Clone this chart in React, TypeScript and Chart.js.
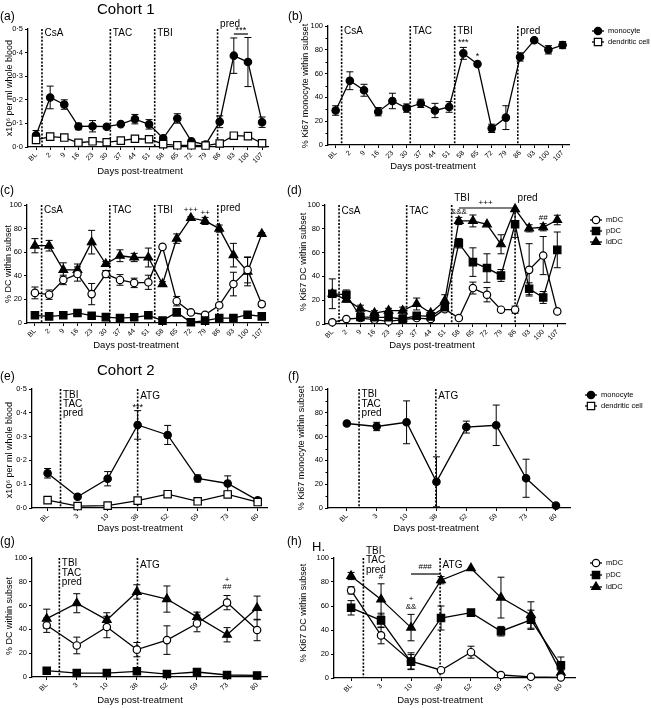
import React, { useEffect, useRef } from 'react';
import { Chart, registerables } from 'chart.js';
Chart.register(...registerables);

const FONT = 'Arial, "Liberation Sans", Helvetica, sans-serif';

// ---------- categories ----------
const daysC1 = ['BL', '2', '9', '16', '23', '30', '37', '44', '51', '58', '65', '72', '79', '86', '93', '100', '107'];
const daysC2 = ['BL', '3', '10', '38', '52', '59', '73', '80'];

// ---------- (a) cohort 1 counts ----------
const aMono = [0.05, 0.21, 0.18, 0.087, 0.088, 0.086, 0.097, 0.118, 0.096, 0.037, 0.121, 0.024, 0.01, 0.107, 0.387, 0.36, 0.105];
const aMonoErr = [0.02, 0.048, 0.02, 0.014, 0.024, 0.006, 0.006, 0.02, 0.02, 0.006, 0.02, 0.005, 0.005, 0.025, 0.075, 0.104, 0.022];
const aDc = [0.03, 0.044, 0.04, 0.018, 0.024, 0.02, 0.027, 0.035, 0.033, 0.012, 0.007, 0.007, 0.006, 0.015, 0.048, 0.046, 0.016];
const aDcErr = [0.008, 0.005, 0.005, 0.004, 0.004, 0.003, 0.004, 0.004, 0.004, 0.003, 0.002, 0.002, 0.002, 0.004, 0.006, 0.005, 0.004];

// ---------- (b) cohort 1 Ki67 monocyte ----------
const bMono = [29, 54, 46, 28, 37, 31, 35, 29, 32, 77, 68, 14, 23, 74, 88, 80, 84];
const bMonoErr = [4, 7.5, 5, 3.5, 6.5, 3.5, 3.5, 6, 4.5, 5, 0, 3.5, 10, 3.5, 0, 3.5, 3];

// ---------- (c) cohort 1 DC subsets ----------
const cMdc = [25.5, 24, 36.5, 41.5, 24.5, 41.5, 36.5, 34, 34.5, 64.5, 18.5, 9, 7, 15, 33, 45, 16];
const cMdcErr = [5, 4, 4, 6, 9, 3, 4.5, 4, 6, 2, 4, 1, 1, 1.5, 10, 11, 2];
const cPdc = [6.5, 5.6, 6.5, 8.5, 6.2, 5, 4.2, 4.8, 6.5, 2, 9, 0.6, 2, 4.2, 4.2, 7, 5.6];
const cPdcErr = [1, 1, 1, 1, 1, 1, 1, 1, 1, 0.5, 1, 0.5, 0.5, 1, 1, 1, 1];
const cLddc = [65.5, 65.5, 45, 45, 68.5, 50, 57, 55.5, 55.5, 33, 71.5, 89, 86.5, 80, 57.5, 43.5, 75.5];
const cLddcErr = [6, 4.5, 6, 5, 10, 2, 5, 3.5, 8, 2, 4, 1, 3, 3, 10, 12, 1];

// ---------- (d) cohort 1 Ki67 DC ----------
const dMdc = [1.4, 4.2, 5, 3.6, 2.2, 3.6, 5, 4.2, 12.5, 5, 30.2, 24.6, 12, 12, 45.5, 57.5, 10.6];
const dMdcErr = [0.5, 1, 1, 1, 1, 1, 1, 1, 2, 1, 5, 6, 1, 3, 22, 16, 1];
const dPdc = [25.4, 24.6, 5.9, 5.6, 5.6, 4.2, 7, 6.4, 14, 67.9, 52, 47, 40.8, 83.8, 29.6, 22.3, 62.3];
const dPdcErr = [12.5, 4, 1.5, 2, 3, 1, 1.5, 3, 3, 4, 12, 12, 5, 11, 5, 5, 15];
const dLddc = [25.5, 20.5, 12.8, 9.2, 11.2, 11.2, 16.8, 9.2, 19.6, 86.6, 86.6, 83.8, 67, 96.6, 80.4, 81.3, 87.4];
const dLddcErr = [2, 2, 3, 2, 2, 3, 5, 2, 5, 3, 5, 0, 8, 0, 3, 3, 4];

// ---------- (e) cohort 2 counts ----------
const eMono = [0.146, 0.047, 0.123, 0.349, 0.307, 0.124, 0.103, 0.032];
const eMonoErr = [0.02, 0.005, 0.03, 0.06, 0.04, 0.015, 0.032, 0.005];
const eDc = [0.033, 0.008, 0.01, 0.031, 0.058, 0.028, 0.057, 0.025];
const eDcErr = [0.005, 0.004, 0.004, 0.005, 0.005, 0.004, 0.01, 0.004];

// ---------- (f) cohort 2 Ki67 monocyte ----------
const fMono = [71, 68.5, 72, 22, 68, 69.5, 25, 2];
const fMonoErr = [0, 3.5, 18, 21, 5, 17, 16, 0];

// ---------- (g) cohort 2 DC subsets ----------
const gMdc = [43.5, 26.5, 42, 23, 31, 45, 62.5, 39.5];
const gMdcErr = [6, 7, 9, 6, 12, 7, 6, 9];
const gPdc = [5.3, 3.3, 3.3, 4.8, 2.5, 4.2, 1.7, 1.3];
const gPdcErr = [1, 1, 1, 1, 1, 1, 0.5, 0.5];
const gLddc = [49, 62, 48, 71.5, 65.5, 50.5, 35.5, 58];
const gLddcErr = [8, 8, 6, 6, 11, 4, 6, 10];

// ---------- (h) cohort 2 Ki67 DC ----------
const hMdc = [73, 35.5, 14, 6.5, 21.5, 2.5, 1, 0.5];
const hMdcErr = [3, 7, 7, 1, 5, 1, 0.5, 0.5];
const hPdc = [58.5, 48, 13.5, 50, 54.5, 39, 48.5, 10.5];
const hPdcErr = [6, 6, 6, 10, 1, 4, 8, 7];
const hLddc = [85, 65.5, 42, 81.5, 91.5, 67, 52.5, 4.5];
const hLddcErr = [3, 13, 11, 3, 0, 17, 11, 2];

type Marker = 'circle' | 'rect' | 'triangle';
interface Series { label: string; data: number[]; err: number[]; marker: Marker; filled: boolean; }
interface Note { x: number; dy: number; text: string; center?: boolean; size?: number; }
interface HBar { x1: number; x2: number; dy: number; }
interface Panel {
  box: [number, number, number, number];
  area: [number, number, number, number];
  cats: string[]; xmin: number; xmax: number;
  ymax: number; ystep: number; decimal?: boolean; minor?: number;
  yTitle: string; yTitlePos: [number, number];
  xTitlePos: [number, number];
  series: Series[];
  vlines: number[]; notes: Note[]; hbars: HBar[];
  legend?: [number, number, number];
  legendItems?: Series[];
}

const mono = (d: number[], e: number[]): Series => ({ label: 'monocyte', data: d, err: e, marker: 'circle', filled: true });
const dc = (d: number[], e: number[]): Series => ({ label: 'dendritic cell', data: d, err: e, marker: 'rect', filled: false });
const mdc = (d: number[], e: number[]): Series => ({ label: 'mDC', data: d, err: e, marker: 'circle', filled: false });
const pdc = (d: number[], e: number[]): Series => ({ label: 'pDC', data: d, err: e, marker: 'rect', filled: true });
const lddc = (d: number[], e: number[]): Series => ({ label: 'ldDC', data: d, err: e, marker: 'triangle', filled: true });

const cellLegend = [mono([], []), dc([], [])];
const dcLegend = [mdc([], []), pdc([], []), lddc([], [])];

const t1 = (x: number, dy: number, text: string, size = 10): Note => ({ x, dy, text, size });
const tc = (x: number, dy: number, text: string, size = 9): Note => ({ x, dy, text, center: true, size });

const panels: Panel[] = [
  {
    box: [0, 0, 290, 178], area: [28, 29, 268, 147], cats: daysC1, xmin: -0.57, xmax: 16.42,
    ymax: 0.5, ystep: 0.1, decimal: true, yTitle: 'x10⁶ per ml whole blood', yTitlePos: [10, 88], xTitlePos: [140, 171],
    series: [dc(aDc, aDcErr), mono(aMono, aMonoErr)],
    vlines: [0.42, 5.26, 8.4, 12.85],
    notes: [t1(0.42, 4, 'CsA'), t1(5.26, 4, 'TAC'), t1(8.4, 4, 'TBI'), t1(12.85, -5, 'pred'), tc(14.5, 2, '***')],
    hbars: [{ x1: 14, x2: 15, dy: 5 }],
  },
  {
    box: [290, 0, 361, 178], area: [328, 26, 569, 145], cats: daysC1, xmin: -0.54, xmax: 16.45,
    ymax: 100, ystep: 20, minor: 10, yTitle: '% Ki67 monocyte within subset', yTitlePos: [306, 86], xTitlePos: [433, 166],
    series: [mono(bMono, bMonoErr)],
    vlines: [0.42, 5.26, 8.39, 12.84],
    notes: [t1(0.42, 5, 'CsA'), t1(5.26, 5, 'TAC'), t1(8.39, 5, 'TBI'), t1(12.84, 5, 'pred'), tc(9, 17, '***'), tc(10, 31, '*')],
    hbars: [], legend: [598, 31, 11], legendItems: cellLegend,
  },
  {
    box: [0, 178, 290, 177], area: [27, 205, 268, 323], cats: daysC1, xmin: -0.56, xmax: 16.44,
    ymax: 100, ystep: 20, yTitle: '% DC within subset', yTitlePos: [9, 264], xTitlePos: [136, 345],
    series: [pdc(cPdc, cPdcErr), mdc(cMdc, cMdcErr), lddc(cLddc, cLddcErr)],
    vlines: [0.47, 5.28, 8.45, 12.9],
    notes: [t1(0.47, 5, 'CsA'), t1(5.28, 5, 'TAC'), t1(8.45, 5, 'TBI'), t1(12.9, 3, 'pred'), tc(11, 5, '+++', 8), tc(12, 8, '++', 8)],
    hbars: [],
  },
  {
    box: [290, 178, 361, 177], area: [325, 205, 565, 324], cats: daysC1, xmin: -0.52, xmax: 16.55,
    ymax: 100, ystep: 20, yTitle: '% Ki67 DC within subset', yTitlePos: [304, 262], xTitlePos: [432, 345],
    series: [pdc(dPdc, dPdcErr), mdc(dMdc, dMdcErr), lddc(dLddc, dLddcErr)],
    vlines: [0.48, 5.29, 8.49, 13.0],
    notes: [t1(0.48, 6, 'CsA'), t1(5.29, 6, 'TAC'), t1(8.49, -7, 'TBI'), t1(13.0, -7, 'pred'), tc(10.9, -2, '+++', 8), tc(9, 7, '&&&', 8), tc(15, 13, '##', 8)],
    hbars: [{ x1: 9, x2: 13, dy: 3 }], legend: [596, 220, 11], legendItems: dcLegend,
  },
  {
    box: [0, 355, 290, 177], area: [32, 389, 267, 508], cats: daysC2, xmin: -0.52, xmax: 7.31,
    ymax: 0.5, ystep: 0.1, decimal: true, yTitle: 'x10⁶ per ml whole blood', yTitlePos: [10, 450], xTitlePos: [140, 528],
    series: [dc(eDc, eDcErr), mono(eMono, eMonoErr)],
    vlines: [0.43, 3.0],
    notes: [t1(0.43, 6, 'TBI'), t1(0.43, 15, 'TAC'), t1(0.43, 24, 'pred'), t1(3.0, 7, 'ATG'), tc(3, 19, '***')],
    hbars: [],
  },
  {
    box: [290, 355, 361, 177], area: [328, 389, 570, 508], cats: daysC2, xmin: -0.63, xmax: 7.47,
    ymax: 100, ystep: 20, minor: 10, yTitle: '% Ki67 monocyte within subset', yTitlePos: [302, 448], xTitlePos: [436, 528],
    series: [mono(fMono, fMonoErr)],
    vlines: [0.41, 2.98],
    notes: [t1(0.41, 5, 'TBI'), t1(0.41, 15, 'TAC'), t1(0.41, 24, 'pred'), t1(2.98, 7, 'ATG')],
    hbars: [], legend: [591, 395, 11], legendItems: cellLegend,
  },
  {
    box: [0, 532, 290, 176], area: [32, 558, 267, 677], cats: daysC2, xmin: -0.49, xmax: 7.33,
    ymax: 100, ystep: 20, yTitle: '% DC within subset', yTitlePos: [10, 616], xTitlePos: [140, 700],
    series: [pdc(gPdc, gPdcErr), mdc(gMdc, gMdcErr), lddc(gLddc, gLddcErr)],
    vlines: [0.42, 3.02],
    notes: [t1(0.42, 5, 'TBI'), t1(0.42, 15, 'TAC'), t1(0.42, 24, 'pred'), t1(3.02, 7, 'ATG'), tc(6, 22, '+', 8), tc(6, 29, '##', 8)],
    hbars: [],
  },
  {
    box: [290, 532, 361, 176], area: [334, 558, 575, 678], cats: daysC2, xmin: -0.57, xmax: 7.47,
    ymax: 100, ystep: 20, yTitle: '% Ki67 DC within subset', yTitlePos: [304, 613], xTitlePos: [440, 700],
    series: [pdc(hPdc, hPdcErr), mdc(hMdc, hMdcErr), lddc(hLddc, hLddcErr)],
    vlines: [0.41, 2.97],
    notes: [t1(0.41, -7, 'TBI'), t1(0.41, 2, 'TAC'), t1(0.41, 12, 'pred'), t1(2.97, 7, 'ATG'), tc(1, 19, '#', 8), tc(2, 41, '+', 8), tc(2, 49, '&&', 8), tc(2.47, 9, '###', 8)],
    hbars: [{ x1: 2, x2: 2.97, dy: 16 }], legend: [596, 563, 12], legendItems: dcLegend,
  },
];

function radiusOf(m: Marker) { return m === 'circle' ? 3.7 : m === 'rect' ? 5.2 : 5; }

function drawMarker(ctx: CanvasRenderingContext2D, m: Marker, x: number, y: number, filled: boolean) {
  const r = radiusOf(m);
  ctx.beginPath();
  if (m === 'circle') ctx.arc(x, y, r, 0, Math.PI * 2);
  else if (m === 'rect') { const s = r * Math.SQRT1_2; ctx.rect(x - s, y - s, 2 * s, 2 * s); }
  else {
    ctx.moveTo(x, y - r);
    ctx.lineTo(x + r * Math.sin(Math.PI * 2 / 3), y - r * Math.cos(Math.PI * 2 / 3));
    ctx.lineTo(x + r * Math.sin(Math.PI * 4 / 3), y - r * Math.cos(Math.PI * 4 / 3));
    ctx.closePath();
  }
  ctx.fillStyle = filled ? '#000' : '#fff';
  ctx.fill();
  ctx.lineWidth = 1.2; ctx.strokeStyle = '#000';
  ctx.stroke();
}

function ChartPanel({ p }: { p: Panel }) {
  const ref = useRef<HTMLCanvasElement>(null);
  useEffect(() => {
    const [L, T, W, H] = p.box;
    const [al, at, ar, ab] = p.area;
    const plugin = {
      id: 'panelDeco',
      beforeDatasetsDraw(chart: any) {
        const ctx: CanvasRenderingContext2D = chart.ctx;
        const xs = chart.scales.x, ys = chart.scales.y, ca = chart.chartArea;
        ctx.save();
        ctx.strokeStyle = '#000';
        ctx.lineWidth = 1.6; ctx.setLineDash([2, 1.6]);
        for (const v of p.vlines) {
          const px = xs.getPixelForValue(v);
          ctx.beginPath(); ctx.moveTo(px, ca.top); ctx.lineTo(px, ca.bottom); ctx.stroke();
        }
        ctx.setLineDash([]);
        ctx.lineWidth = 1;
        for (const s of p.series) {
          s.data.forEach((v, i) => {
            const e = s.err[i];
            if (!e) return;
            const px = xs.getPixelForValue(i);
            const y1 = ys.getPixelForValue(v + e);
            const y2 = ys.getPixelForValue(Math.max(0, v - e));
            ctx.beginPath();
            ctx.moveTo(px, y1); ctx.lineTo(px, y2);
            ctx.moveTo(px - 3.5, y1); ctx.lineTo(px + 3.5, y1);
            ctx.moveTo(px - 3.5, y2); ctx.lineTo(px + 3.5, y2);
            ctx.stroke();
          });
        }
        ctx.restore();
      },
      afterDraw(chart: any) {
        const ctx: CanvasRenderingContext2D = chart.ctx;
        const xs = chart.scales.x, ys = chart.scales.y, ca = chart.chartArea;
        ctx.save();
        ctx.fillStyle = '#000'; ctx.strokeStyle = '#000';
        ctx.textBaseline = 'middle';
        for (const n of p.notes) {
          ctx.font = `${n.size ?? 10}px ${FONT}`;
          const px = xs.getPixelForValue(n.x);
          ctx.textAlign = n.center ? 'center' : 'left';
          ctx.fillText(n.text, n.center ? px : px + 2.5, ca.top + n.dy);
        }
        ctx.lineWidth = 1.2;
        for (const b of p.hbars) {
          ctx.beginPath();
          ctx.moveTo(xs.getPixelForValue(b.x1), ca.top + b.dy);
          ctx.lineTo(xs.getPixelForValue(b.x2), ca.top + b.dy);
          ctx.stroke();
        }
        if (p.minor) {
          ctx.lineWidth = 1;
          for (let v = p.minor; v < p.ymax; v += p.ystep) {
            const py = Math.round(ys.getPixelForValue(v)) + 0.5;
            ctx.beginPath(); ctx.moveTo(ca.left, py); ctx.lineTo(ca.left - 2.5, py); ctx.stroke();
          }
        }
        ctx.font = `9.5px ${FONT}`;
        ctx.textAlign = 'center';
        ctx.fillText('Days post-treatment', p.xTitlePos[0] - L, p.xTitlePos[1] - T);
        ctx.save();
        ctx.translate(p.yTitlePos[0] - L, p.yTitlePos[1] - T);
        ctx.rotate(-Math.PI / 2);
        ctx.font = `9px ${FONT}`;
        ctx.fillText(p.yTitle, 0, 0);
        ctx.restore();
        if (p.legend && p.legendItems) {
          const [lx, ly, sp] = p.legend;
          p.legendItems.forEach((s, i) => {
            const x = lx - L, y = ly - T + i * sp;
            ctx.lineWidth = 1.3; ctx.strokeStyle = '#000';
            ctx.beginPath(); ctx.moveTo(x - 6, y); ctx.lineTo(x + 6, y); ctx.stroke();
            drawMarker(ctx, s.marker, x, y, s.filled);
            ctx.fillStyle = '#000';
            ctx.font = `7.5px ${FONT}`;
            ctx.textAlign = 'left';
            ctx.fillText(s.label, x + 10, y);
          });
        }
        ctx.restore();
      },
    };
    const chart = new Chart(ref.current as HTMLCanvasElement, {
      type: 'line',
      data: {
        datasets: p.series.map((s) => ({
          label: s.label,
          data: s.data.map((v, i) => ({ x: i, y: v })),
          borderColor: '#000', borderWidth: 1.3,
          pointStyle: s.marker, pointRadius: radiusOf(s.marker),
          pointBackgroundColor: s.filled ? '#000' : '#fff', pointBorderColor: '#000', pointBorderWidth: 1.2,
          tension: 0, clip: false, fill: false,
        })),
      },
      options: {
        responsive: false, animation: false, events: [],
        layout: { padding: { left: 0, top: at - T, right: L + W - ar, bottom: 0 } },
        plugins: { legend: { display: false }, tooltip: { enabled: false } },
        scales: {
          x: {
            type: 'linear', min: p.xmin, max: p.xmax,
            afterBuildTicks: (s: any) => { s.ticks = p.cats.map((_, i) => ({ value: i })); },
            afterFit: (s: any) => { s.height = T + H - ab; },
            ticks: {
              autoSkip: false, minRotation: 45, maxRotation: 45, padding: 1,
              font: { family: FONT, size: 7 }, color: '#000',
              callback: (v: any) => p.cats[v] ?? '',
            },
            grid: { display: true, drawOnChartArea: false, drawTicks: true, tickLength: 3, color: '#000', lineWidth: 1 },
            border: { display: true, color: '#000', width: 1.3 },
          },
          y: {
            type: 'linear', min: 0, max: p.ymax,
            afterFit: (s: any) => { s.width = al - L; },
            ticks: {
              stepSize: p.ystep, padding: 2,
              font: { family: FONT, size: 7.5 }, color: '#000',
              callback: (v: any) => (p.decimal ? Number(v).toFixed(1).replace('.', '·') : String(Math.round(v))),
            },
            grid: { display: true, drawOnChartArea: false, drawTicks: true, tickLength: 3, color: '#000', lineWidth: 1 },
            border: { display: true, color: '#000', width: 1.3 },
          },
        },
      } as any,
      plugins: [plugin],
    });
    return () => chart.destroy();
  }, [p]);
  const [L, T, W, H] = p.box;
  return <canvas ref={ref} width={W} height={H} style={{ position: 'absolute', left: L, top: T, width: W, height: H }} />;
}

const labels: { text: string; x: number; y: number; size: number }[] = [
  { text: 'Cohort 1', x: 97, y: 8, size: 15 },
  { text: 'Cohort 2', x: 97, y: 369, size: 15 },
  { text: '(a)', x: 0, y: 16, size: 12 },
  { text: '(b)', x: 288, y: 16, size: 12 },
  { text: '(c)', x: 0, y: 190, size: 12 },
  { text: '(d)', x: 287, y: 190, size: 12 },
  { text: '(e)', x: 0, y: 376, size: 12 },
  { text: '(f)', x: 288, y: 376, size: 12 },
  { text: '(g)', x: 0, y: 541, size: 12 },
  { text: '(h)', x: 287, y: 541, size: 12 },
  { text: 'H.', x: 312, y: 546, size: 13 },
];

export default function App() {
  return (
    <div style={{ position: 'absolute', left: 0, top: 0, width: 651, height: 708, background: '#fff', overflow: 'hidden' }}>
      {panels.map((p, i) => <ChartPanel key={i} p={p} />)}
      {labels.map((l, i) => (
        <div key={'l' + i} style={{ position: 'absolute', left: l.x, top: l.y, transform: 'translateY(-50%)', fontFamily: FONT, fontSize: l.size, lineHeight: 1, color: '#000', whiteSpace: 'nowrap' }}>{l.text}</div>
      ))}
    </div>
  );
}
